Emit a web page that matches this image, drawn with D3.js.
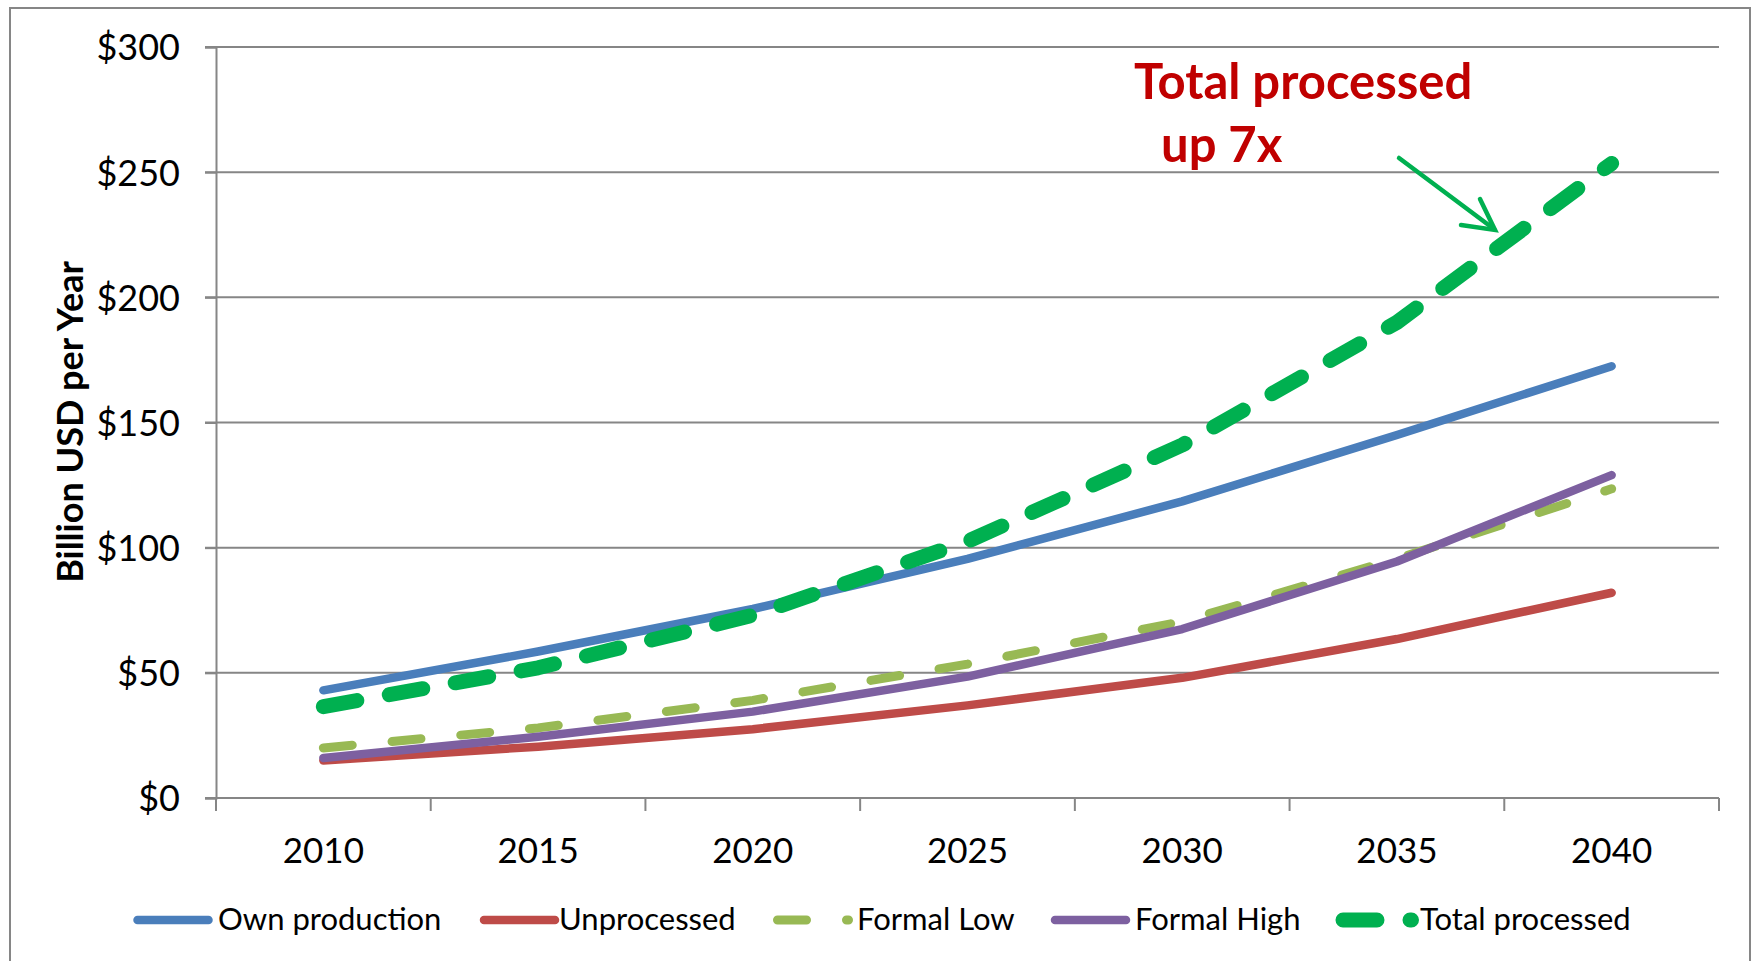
<!DOCTYPE html>
<html>
<head>
<meta charset="utf-8">
<script src="https://cdn.jsdelivr.net/npm/d3@7/dist/d3.min.js"></script>
<style>
  html, body { margin: 0; padding: 0; background: #ffffff; }
  svg { display: block; }
  text { font-family: Lato, "Open Sans", sans-serif; fill: #000; }
</style>
</head>
<body>
<svg id="chart" width="1754" height="961"></svg>
<script>
// ---- data ----
const years = [2010, 2015, 2020, 2025, 2030, 2035, 2040];
const ownProduction = [43, 58.5, 75.5, 95.5, 118.5, 145, 172.5];
const unprocessed = [15, 20.5, 27.5, 37, 48, 63.5, 82];
const formalLow = [20, 28, 39, 53.5, 70.5, 95.5, 123.5];
const formalHigh = [16, 24.5, 34.5, 48.5, 67.5, 94.5, 129];
const totalProcessed = [36.5, 52, 73, 102.5, 141, 190, 253.5];
const yTicks = [0, 50, 100, 150, 200, 250, 300];
const seriesNames = ["Own production", "Unprocessed", "Formal Low", "Formal High", "Total processed"];
const yTitle = "Billion USD per Year";
const noteLines = ["Total processed", "up 7x"];

// ---- styling ----
const series = [
  { name: seriesNames[0], values: ownProduction, color: "#4A7EBB", width: 8.5, dash: null, legendX: 137.5 },
  { name: seriesNames[1], values: unprocessed, color: "#BE4B48", width: 8.5, dash: null, legendX: 484 },
  { name: seriesNames[2], values: formalLow, color: "#98B954", width: 9, dash: "29,40", legendX: 777.5 },
  { name: seriesNames[3], values: formalHigh, color: "#7D60A0", width: 8.5, dash: null, legendX: 1055 },
  { name: seriesNames[4], values: totalProcessed, color: "#00B050", width: 15, dash: "34,33", legendX: 1343 }
];
const legendTextX = [218, 559, 857, 1135, 1420];
const legendLen = [71, 71, 71, 71, 68.5];

const svg = d3.select("#chart");
const gridColor = "#868686";

// outer border
svg.append("rect").attr("x", 10).attr("y", 8).attr("width", 1740).attr("height", 980)
  .attr("fill", "none").attr("stroke", gridColor).attr("stroke-width", 2);

const x = d3.scaleBand().domain(years).range([216, 1719]).paddingInner(0).paddingOuter(0);
const y = d3.scaleLinear().domain([0, 300]).range([798, 47]);
const cx = d => x(d) + x.bandwidth() / 2;

// gridlines
svg.append("g").selectAll("line").data(yTicks).join("line")
  .attr("x1", 205).attr("x2", 1719)
  .attr("y1", d => y(d)).attr("y2", d => y(d))
  .attr("stroke", gridColor).attr("stroke-width", 2);

// y axis
const yAxis = d3.axisLeft(y).tickValues(yTicks).tickSize(11).tickPadding(25).tickFormat(d => "$" + d);
const gy = svg.append("g").attr("transform", "translate(216,0)").call(yAxis);
gy.select(".domain").attr("stroke", gridColor).attr("stroke-width", 2);
gy.selectAll(".tick line").attr("stroke", gridColor).attr("stroke-width", 2);
gy.selectAll(".tick text").attr("font-size", 36).attr("font-family", "Lato, 'Open Sans', sans-serif")
  .attr("fill", "#000").attr("dy", "0.36em");

// x axis: labels centered, tick marks at category boundaries
const xAxis = d3.axisBottom(x).tickSize(0).tickPadding(0);
const gx = svg.append("g").attr("transform", "translate(0,798)").call(xAxis);
gx.select(".domain").remove();
gx.selectAll(".tick text").attr("font-size", 35).attr("font-family", "Lato, 'Open Sans', sans-serif")
  .attr("fill", "#000").attr("dy", null).attr("y", 65);
const bounds = years.map(d => x(d)).concat([x.range()[1]]);
svg.append("g").selectAll("line").data(bounds).join("line")
  .attr("x1", d => d).attr("x2", d => d).attr("y1", 798).attr("y2", 811)
  .attr("stroke", gridColor).attr("stroke-width", 2);
svg.append("line").attr("x1", 216).attr("x2", 1719).attr("y1", 798).attr("y2", 798)
  .attr("stroke", gridColor).attr("stroke-width", 2);

// y title
svg.append("text").attr("transform", "translate(83,422) rotate(-90)")
  .attr("text-anchor", "middle").attr("font-size", 36).attr("font-weight", 700).text(yTitle);

// lines
const line = d3.line().x((d, i) => cx(years[i])).y(d => y(d));
series.forEach(s => {
  svg.append("path").datum(s.values)
    .attr("d", line)
    .attr("fill", "none").attr("stroke", s.color).attr("stroke-width", s.width)
    .attr("stroke-linecap", "round").attr("stroke-linejoin", "round")
    .attr("stroke-dasharray", s.dash);
});

// annotation
svg.append("text").attr("x", 1134).attr("y", 99).attr("font-size", 49).attr("font-weight", 700)
  .style("fill", "#C00000").text(noteLines[0]);
svg.append("text").attr("x", 1161).attr("y", 162).attr("font-size", 49).attr("font-weight", 700)
  .style("fill", "#C00000").text(noteLines[1]);
// arrow
const arrowG = svg.append("g").attr("stroke", "#00B050").attr("stroke-width", 4.5)
  .attr("fill", "none").attr("stroke-linecap", "round");
arrowG.append("line").attr("x1", 1399).attr("y1", 158).attr("x2", 1494).attr("y2", 229);
arrowG.append("path").attr("d", "M1480,199 L1495,230 L1461,225");

// legend
series.forEach((s, i) => {
  const lx = s.legendX;
  svg.append("path").attr("d", `M${lx},920 H${lx + legendLen[i]}`)
    .attr("stroke", s.color).attr("stroke-width", s.width).attr("fill", "none")
    .attr("stroke-linecap", "round").attr("stroke-dasharray", s.dash);
  svg.append("text").attr("x", legendTextX[i]).attr("y", 930).attr("font-size", 31).text(s.name);
});
</script>
</body>
</html>
